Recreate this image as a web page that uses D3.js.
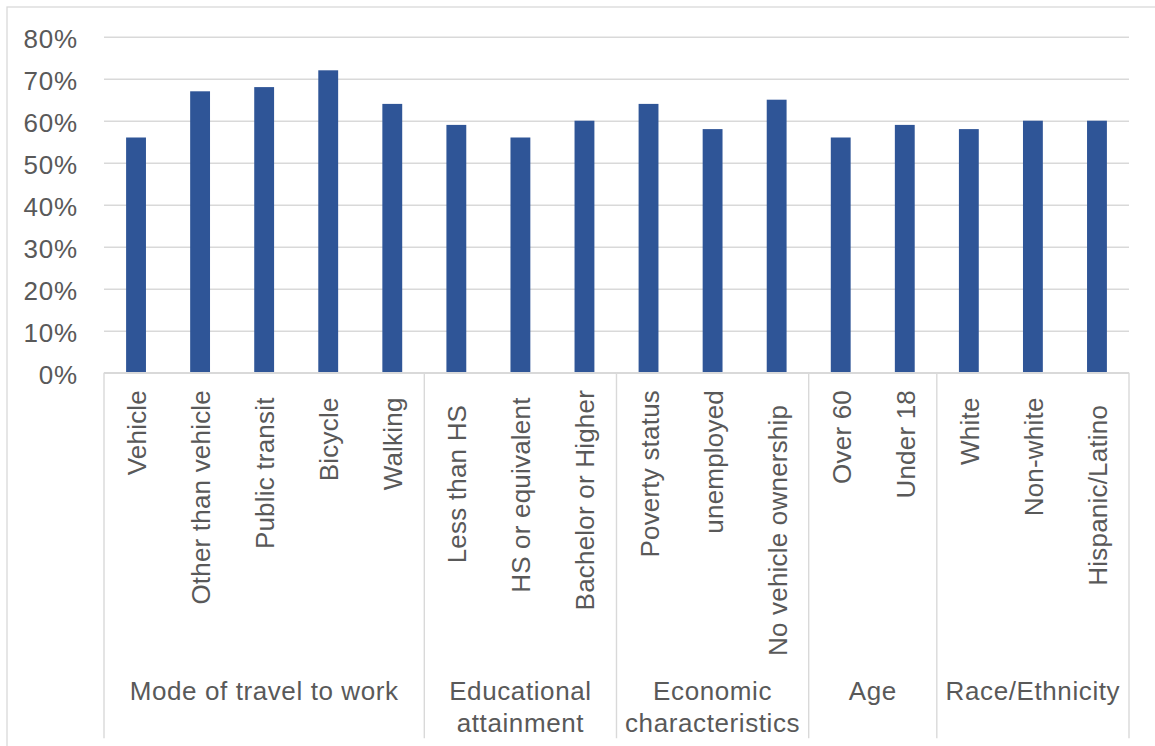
<!DOCTYPE html>
<html>
<head>
<meta charset="utf-8">
<script src="https://cdn.jsdelivr.net/npm/d3@7"></script>
<style>
  html, body { margin: 0; padding: 0; background: #ffffff; }
  svg { display: block; }
  text { font-family: "Liberation Sans", Arial, Helvetica, sans-serif; fill: #595959; }
</style>
</head>
<body>
<svg id="chart" width="1155" height="746"></svg>
<script>
// Share of respondents by group (0–1)
const categories = [
  "Vehicle", "Other than vehicle", "Public transit ", "Bicycle ", "Walking ",
  "Less than HS  ", "HS or equivalent ", "Bachelor or Higher",
  "Poverty status", "unemployed", "No vehicle ownership  ",
  "Over 60", "Under 18",
  "White ", "Non-white ", "Hispanic/Latino  "
];
const values = [
  0.56, 0.67, 0.68, 0.72, 0.64,
  0.59, 0.56, 0.60,
  0.64, 0.58, 0.65,
  0.56, 0.59,
  0.58, 0.60, 0.60
];
const groupNames = ["Mode of travel to work", "Educational attainment", "Economic characteristics", "Age", "Race/Ethnicity"];
const groupSizes = [5, 3, 3, 2, 3];
const yTicks = [0, 0.1, 0.2, 0.3, 0.4, 0.5, 0.6, 0.7, 0.8];

const svg = d3.select("#chart");
const gridColor = "#d9d9d9";
const barColor = "#2f5597";

// Chart frame
svg.append("rect")
  .attr("x", 7).attr("y", 7)
  .attr("width", 1170).attr("height", 760)
  .attr("fill", "none").attr("stroke", gridColor).attr("stroke-width", 1.3);

const plot = { left: 104, right: 1129, top: 36.7, bottom: 372.7 };

const x = d3.scaleBand()
  .domain(d3.range(categories.length))
  .range([plot.left, plot.right])
  .paddingInner(0.69)
  .paddingOuter(0.345);

const y = d3.scaleLinear()
  .domain([0, 0.8])
  .range([plot.bottom, plot.top]);

// Horizontal gridlines and y labels
const yAxis = d3.axisLeft(y)
  .tickValues(yTicks)
  .tickFormat(d3.format(".0%"))
  .tickSize(-(plot.right - plot.left))
  .tickPadding(26);

const gy = svg.append("g")
  .attr("transform", `translate(${plot.left},0)`)
  .call(yAxis);
gy.select(".domain").remove();
gy.selectAll(".tick line").attr("stroke", gridColor).attr("stroke-width", 1.4);
gy.selectAll(".tick text")
  .attr("fill", "#595959")
  .style("font-size", "26px")
  .style("letter-spacing", "0.8px")
  .attr("dy", null)
  .attr("y", 10.3);

// Bars
svg.append("g").selectAll("rect")
  .data(values)
  .join("rect")
  .attr("x", (d, i) => x(i))
  .attr("y", d => y(d))
  .attr("width", x.bandwidth())
  .attr("height", d => y(0) - y(d))
  .attr("fill", barColor);

// Category axis: baseline and group separators
const step = x.step();
const sepBottom = 738.3;
svg.append("line")
  .attr("x1", plot.left).attr("x2", plot.right)
  .attr("y1", plot.bottom).attr("y2", plot.bottom)
  .attr("stroke", gridColor).attr("stroke-width", 1.4);

const bounds = [0];
groupSizes.forEach(n => bounds.push(bounds[bounds.length - 1] + n));
svg.append("g").selectAll("line")
  .data(bounds)
  .join("line")
  .attr("x1", k => plot.left + k * step)
  .attr("x2", k => plot.left + k * step)
  .attr("y1", plot.bottom).attr("y2", sepBottom)
  .attr("stroke", gridColor).attr("stroke-width", 1.4);

// Rotated category labels
svg.append("g").selectAll("text")
  .data(categories)
  .join("text")
  .attr("transform", (d, i) => `translate(${x(i) + x.bandwidth() / 2 + 10},390) rotate(-90)`)
  .attr("text-anchor", "end")
  .style("font-size", "26px")
  .style("letter-spacing", "0.2px")
  .style("white-space", "pre")
  .text(d => d);

// Group labels, wrapped to fit their span
const gGroups = svg.append("g");
groupNames.forEach((name, gi) => {
  const x0 = plot.left + bounds[gi] * step;
  const x1 = plot.left + bounds[gi + 1] * step;
  const cx = (x0 + x1) / 2;
  const maxW = x1 - x0 - 8;
  const t = gGroups.append("text")
    .attr("text-anchor", "middle")
    .style("font-size", "26px")
    .style("letter-spacing", "0.6px");
  const words = name.split(" ");
  let lines = [];
  let line = [];
  const probe = t.append("tspan");
  words.forEach(w => {
    const test = line.concat([w]).join(" ");
    probe.text(test);
    if (probe.node().getComputedTextLength() > maxW && line.length) {
      lines.push(line.join(" "));
      line = [w];
    } else {
      line.push(w);
    }
  });
  lines.push(line.join(" "));
  probe.remove();
  lines.forEach((ln, li) => {
    t.append("tspan")
      .attr("x", cx)
      .attr("y", 700 + li * 31.7)
      .text(ln);
  });
});
</script>
</body>
</html>
